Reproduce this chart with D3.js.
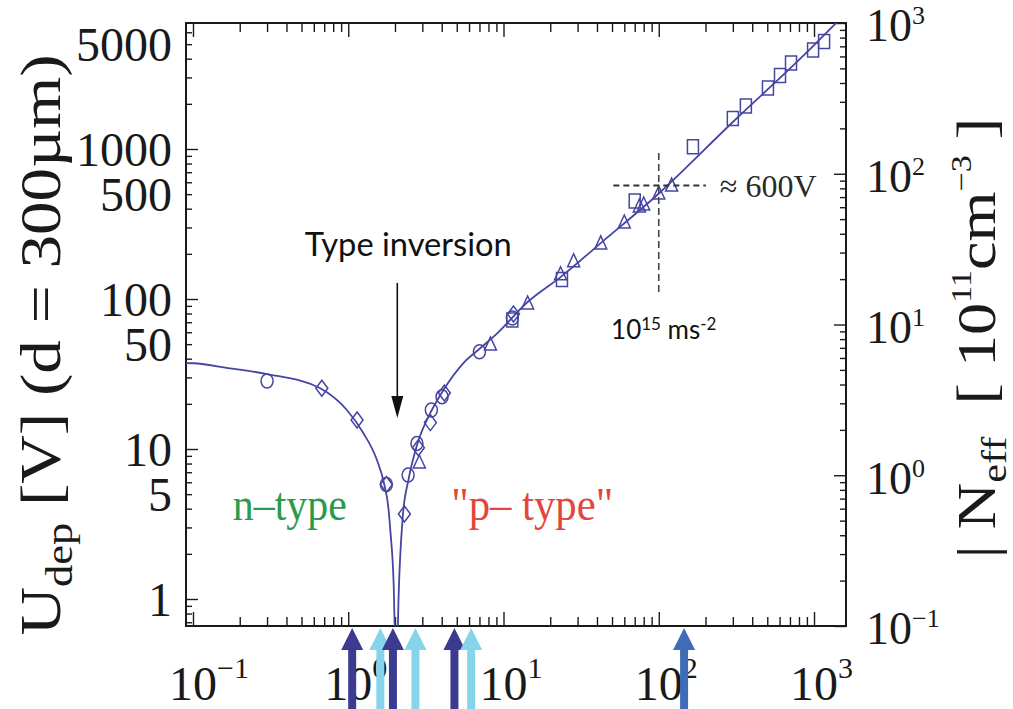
<!DOCTYPE html>
<html>
<head>
<meta charset="utf-8">
<script src="https://cdn.jsdelivr.net/npm/d3@7"></script>
<style>
  body { margin: 0; background: #fff; }
  svg { display: block; }
  text { white-space: pre; }
</style>
</head>
<body>
<script>
// points: [fluence, depletion voltage in V]
const circles = [[0.30, 28.4], [1.76, 5.8], [2.43, 6.7], [2.77, 10.9], [3.43, 18.2], [4.02, 22.3], [7.0, 44.5], [11.4, 74.7]];
const diamonds = [[0.676, 25.4], [1.14, 15.6], [1.76, 5.8], [2.30, 3.69], [2.83, 10.2], [3.38, 15.0], [4.16, 23.6], [11.6, 79.4]];
const triangles = [[2.87, 8.07], [8.24, 49.3], [14.3, 92.6], [23.3, 145], [28.3, 177], [42.3, 233], [60, 321], [75, 411], [80, 423], [100, 501], [121, 566]];
const squares = [[11.4, 72.4], [23.8, 135], [70, 450], [166, 1036], [300, 1597], [364, 1935], [505, 2551], [604, 3090], [711, 3743], [986, 4571], [1161, 5200]];

// fitted curve, traced by eye (goes below 1 V at the inversion point)
const curve = [[0.090, 37.4], [0.1, 37.3], [0.173, 34.5], [0.30, 31.6], [0.66, 25.4], [0.98, 18.2], [1.256, 12.7],
  [1.53, 8.45], [1.69, 6.06], [1.82, 3.92], [1.866, 2.88], [1.96, 1.28], [2.01, 0.5],
  [2.07, 0.5], [2.11, 1.04], [2.25, 3.63], [2.44, 6.2], [2.77, 10.6], [3.38, 17.4], [4.10, 24.7], [5.52, 37.4],
  [7.11, 47.1], [9.1, 59], [14.3, 95.5], [23.3, 140], [42.3, 236], [101, 509], [300, 1514], [825, 4044], [1493, 7470]];

// arrows under the axis: fluence and colour group
const arrowF = [1.06, 1.61, 1.94, 2.71, 4.83, 6.19, 145.6];
const arrowKind = ["dark", "light", "dark", "light", "dark", "light", "mid"];

// tick labels
const xExp = [-1, 0, 1, 2, 3];
const yLabels = [1, 5, 10, 50, 100, 500, 1000, 5000];
const rExp = [-1, 0, 1, 2, 3];

// the 1e15 / 600 V guide
const markF = 100, markU = 570;
const hLineF = [51, 201];
const vLineU = [106, 940];
const inversionF = 2.07, inversionU = [128, 16.1];

var margin = { top: 23, right: 167, bottom: 83, left: 186 },
  width = 1013 - margin.left - margin.right,
  height = 709 - margin.top - margin.bottom;

var svg = d3.select("body").append("svg")
  .attr("width", 1013).attr("height", 709);
svg.append("rect").attr("width", 1013).attr("height", 709).attr("fill", "#fff");

var g = svg.append("g")
  .attr("transform", "translate(" + margin.left + "," + margin.top + ")");

var x = d3.scaleLog().domain([Math.pow(10, -1.045), Math.pow(10, 3.206)]).range([0, width]);
var y = d3.scaleLog().domain([Math.pow(10, -0.18), Math.pow(10, 3.84)]).range([height, 0]);
var yR = d3.scaleLog().domain([0.1, 1000]).range([height, 0]);

function logTicks(scale) {
  var d = scale.domain(), out = [];
  for (var e = -3; e < 5; e++)
    for (var m = 1; m < 10; m++) {
      var v = m * Math.pow(10, e);
      if (v >= d[0] * 0.999 && v <= d[1] * 1.001) out.push(v);
    }
  return out;
}
function isMajor(v) { var l = Math.log10(v); return Math.abs(l - Math.round(l)) < 1e-6; }

var ink = "#1a1a1a";
function ticks(axis, scale, tr, big, small, majorFilter) {
  var t = logTicks(scale);
  [[t.filter(function (v) { return !majorFilter(v); }), small], [t.filter(majorFilter), big]].forEach(function (p) {
    var a = g.append("g").attr("transform", tr)
      .call(axis(scale).tickValues(p[0]).tickSize(p[1]).tickSizeOuter(0).tickFormat(""));
    a.select(".domain").remove();
    a.selectAll("line").attr("stroke", ink).attr("stroke-width", 1.4);
  });
}
ticks(d3.axisBottom, x, "translate(0," + height + ")", -14, -9, isMajor);
ticks(d3.axisTop, x, "translate(0,0)", -14, -9, isMajor);
ticks(d3.axisLeft, y, "translate(0,0)", -12, -6, isMajor);
ticks(d3.axisRight, yR, "translate(" + width + ",0)", -12, -6, isMajor);

g.append("rect").attr("width", width).attr("height", height)
  .attr("fill", "none").attr("stroke", ink).attr("stroke-width", 2);

var serif = "'Liberation Serif', 'Times New Roman', serif";
var sans = "Lato, 'Open Sans', sans-serif";

// bottom labels 10^n
g.selectAll(".xl").data(xExp).join("text")
  .attr("x", function (d) { return x(Math.pow(10, d)) - 24; })
  .attr("y", height + 74)
  .style("font-family", serif).style("font-size", "48px").attr("fill", ink)
  .each(function (d) {
    var t = d3.select(this);
    t.append("tspan").text("10");
    t.append("tspan").attr("dy", -22).style("font-size", "30px").text(d < 0 ? "\u2212" + (-d) : d);
  });

// left labels
g.selectAll(".yl").data(yLabels).join("text")
  .attr("x", -14).attr("y", function (d) { return y(d); }).attr("dy", "0.35em")
  .attr("text-anchor", "end")
  .style("font-family", serif).style("font-size", "48px").attr("fill", ink)
  .text(function (d) { return d; });

// right labels
g.selectAll(".rl").data(rExp).join("text")
  .attr("x", width + 20).attr("y", function (d) { return yR(Math.pow(10, d)); }).attr("dy", "0.4em")
  .style("font-family", serif).style("font-size", "46px").attr("fill", ink)
  .each(function (d) {
    var t = d3.select(this);
    t.append("tspan").text("10");
    t.append("tspan").attr("dy", -17).style("font-size", "26px").text(d < 0 ? "\u2212" + (-d) : d);
  });

// axis titles
var lt = svg.append("text")
  .attr("transform", "translate(60,345) rotate(-90) scale(1.2,1)")
  .attr("text-anchor", "middle")
  .style("font-family", serif).style("font-size", "56px").attr("fill", ink);
lt.append("tspan").text("U");
lt.append("tspan").attr("dy", 12).style("font-size", "37px").text("dep");
lt.append("tspan").attr("dy", -12).text(" [V] (d = 300\u00b5m)");

var rt = svg.append("text")
  .attr("transform", "translate(995,338) rotate(-90) scale(1.17,1)")
  .attr("text-anchor", "middle")
  .style("font-family", serif).style("font-size", "55px").attr("fill", ink);
rt.append("tspan").text("| N");
rt.append("tspan").attr("dy", 11).style("font-size", "36px").text("eff");
rt.append("tspan").attr("dy", -11).text("  [ 10");
rt.append("tspan").attr("dy", -24).style("font-size", "29px").text("11");
rt.append("tspan").attr("dy", 24).text("cm");
rt.append("tspan").attr("dy", -24).style("font-size", "29px").text("\u22123");
rt.append("tspan").attr("dy", 24).text(" ]");

// plot contents
g.append("clipPath").attr("id", "clip").append("rect").attr("width", width).attr("height", height);
var plot = g.append("g").attr("clip-path", "url(#clip)");

var navy = "#4646a2";
plot.append("path").datum(curve)
  .attr("d", d3.line().x(function (d) { return x(d[0]); }).y(function (d) { return y(d[1]); }).curve(d3.curveMonotoneX))
  .attr("fill", "none").attr("stroke", navy).attr("stroke-width", 1.8);

function marks(data, shape) {
  plot.append("g").selectAll("path").data(data).join("path")
    .attr("transform", function (d) { return "translate(" + x(d[0]) + "," + y(d[1]) + ")"; })
    .attr("d", shape)
    .attr("fill", "none").attr("stroke", navy).attr("stroke-width", 1.5);
}
marks(circles, "M6,0 A6,7 0 1,1 -6,0 A6,7 0 1,1 6,0 Z");
marks(diamonds, "M0,-8 L6,0 L0,8 L-6,0 Z");
marks(triangles, "M0,-8 L6,5 L-6,5 Z");
marks(squares, "M-5.5,-7 L5.5,-7 L5.5,7 L-5.5,7 Z");

// 10^15 / 600 V guide lines
plot.append("line")
  .attr("x1", x(hLineF[0])).attr("x2", x(hLineF[1])).attr("y1", y(markU)).attr("y2", y(markU))
  .attr("stroke", "#333").attr("stroke-width", 2).attr("stroke-dasharray", "6,4");
plot.append("line")
  .attr("x1", x(markF)).attr("x2", x(markF)).attr("y1", y(vLineU[1])).attr("y2", y(vLineU[0]))
  .attr("stroke", "#444").attr("stroke-width", 1.6).attr("stroke-dasharray", "7,4");

g.append("text").attr("x", x(hLineF[1]) + 14).attr("y", y(markU) + 11)
  .style("font-family", serif).style("font-size", "32px").attr("fill", "#2a2a2a")
  .text("\u2248 600V");

var ms = g.append("text").attr("x", x(markF) + 5).attr("y", y(vLineU[0]) + 44)
  .attr("text-anchor", "middle")
  .style("font-family", sans).style("font-size", "26px").attr("fill", "#111");
ms.append("tspan").text("10");
ms.append("tspan").attr("dy", -9).style("font-size", "17px").text("15");
ms.append("tspan").attr("dy", 9).text(" ms");
ms.append("tspan").attr("dy", -9).style("font-size", "17px").text("-2");

// type inversion arrow
g.append("line")
  .attr("x1", x(inversionF)).attr("x2", x(inversionF))
  .attr("y1", y(inversionU[0])).attr("y2", y(inversionU[1]) - 20)
  .attr("stroke", "#111").attr("stroke-width", 1.6);
g.append("path")
  .attr("d", "M" + (x(inversionF) - 6) + "," + (y(inversionU[1]) - 22) + "l12,0 l-6,22 z")
  .attr("fill", "#111");
g.append("text").attr("x", x(inversionF) + 11).attr("y", y(inversionU[0]) - 27)
  .attr("text-anchor", "middle").attr("textLength", 207).attr("lengthAdjust", "spacingAndGlyphs")
  .style("font-family", sans).style("font-size", "32px").attr("fill", "#111")
  .text("Type inversion");

// region names
g.append("text").attr("x", x(0.42)).attr("y", y(3.36))
  .attr("text-anchor", "middle").attr("textLength", 114).attr("lengthAdjust", "spacingAndGlyphs")
  .style("font-family", serif).style("font-size", "46px").attr("fill", "#2a9a4e")
  .text("n\u2013type");
g.append("text").attr("x", x(15.3)).attr("y", y(3.36))
  .attr("text-anchor", "middle").attr("textLength", 162).attr("lengthAdjust", "spacingAndGlyphs")
  .style("font-family", serif).style("font-size", "46px").attr("fill", "#e2463c")
  .text("\"p\u2013 type\"");

// arrows under the x axis, over the labels
var arrowColor = { dark: "#3b3b8f", light: "#86d4ea", mid: "#3f6cb6" };
g.selectAll(".arrow").data(arrowF).join("path")
  .attr("d", function (d) {
    var c = x(d), t = height + 2;
    return "M" + (c - 4) + "," + (height + 90) + " L" + (c - 4) + "," + (t + 22) +
      " L" + (c - 11) + "," + (t + 22) + " L" + c + "," + t + " L" + (c + 11) + "," + (t + 22) +
      " L" + (c + 4) + "," + (t + 22) + " L" + (c + 4) + "," + (height + 90) + " Z";
  })
  .attr("fill", function (d, i) { return arrowColor[arrowKind[i]]; });
</script>
</body>
</html>
